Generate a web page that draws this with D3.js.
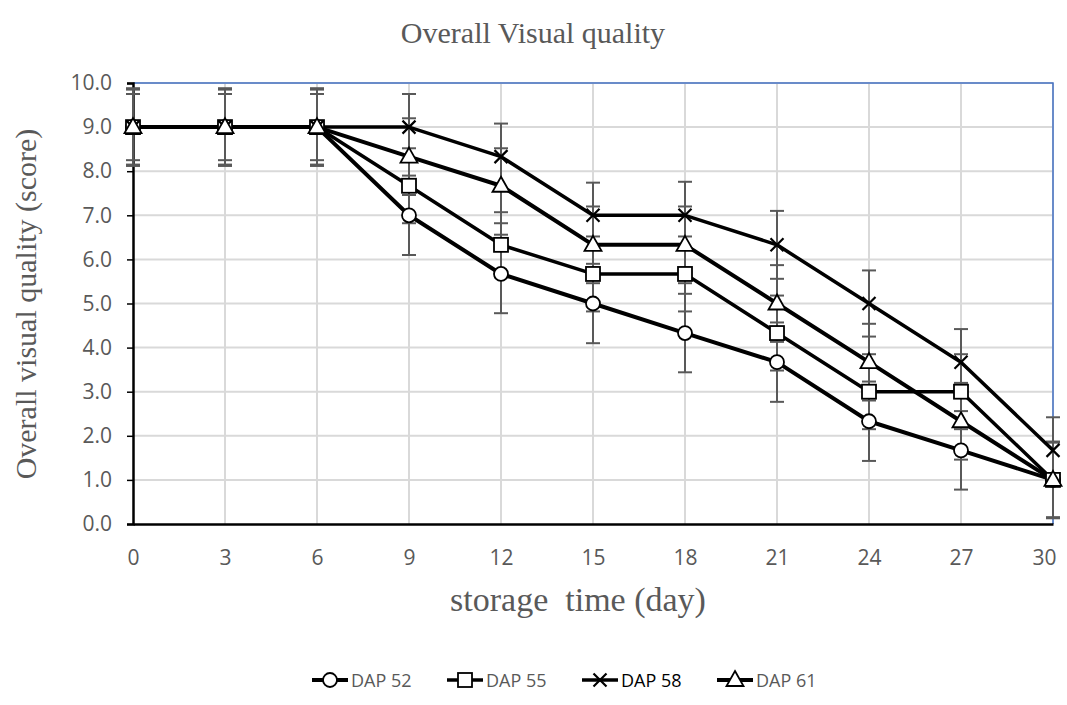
<!DOCTYPE html>
<html><head><meta charset="utf-8">
<script src="https://cdn.jsdelivr.net/npm/d3@7"></script>
<style>body{margin:0;background:#fff}</style>
</head><body>
<svg id="c" width="1067" height="705"></svg>
<script>
const days = [0,3,6,9,12,15,18,21,24,27,30];
const seriesNames = ["DAP 52","DAP 55","DAP 58","DAP 61"];
const dap52 = [9,9,9,7,5.67,5,4.33,3.67,2.33,1.67,1];
const dap55 = [9,9,9,7.67,6.33,5.67,5.67,4.33,3,3,1];
const dap58 = [9,9,9,9,8.33,7,7,6.33,5,3.67,1.67];
const dap61 = [9,9,9,8.33,7.67,6.33,6.33,5,3.67,2.33,1];
const err52 = [0.88,0.88,0.88,0.9,0.89,0.9,0.89,0.9,0.9,0.89,0.85];
const err55 = [0.85,0.85,0.85,0.85,0.74,0.85,0.85,0.85,0.85,0.85,0.85];
const err58 = [0.75,0.75,0.75,0.75,0.75,0.74,0.76,0.77,0.75,0.75,0.75];
const err61 = [0.87,0.87,0.87,0.87,0.85,0.87,0.87,0.87,0.87,0.87,0.87];
const yTicks = [0,1,2,3,4,5,6,7,8,9,10];

const series = [
  {name:seriesNames[0], vals:dap52, err:err52, sym:"circle", lw:4},
  {name:seriesNames[1], vals:dap55, err:err55, sym:"square", lw:3.5},
  {name:seriesNames[2], vals:dap58, err:err58, sym:"cross", lw:3.5},
  {name:seriesNames[3], vals:dap61, err:err61, sym:"triangle", lw:4}
];

const svg = d3.select("#c");
const L=133, R=1053, T=83, B=524;
const x = d3.scaleLinear().domain([0,30]).range([L,R]);
const y = d3.scaleLinear().domain([0,10]).range([B,T]);
const gray="#595959";
const sans="'Open Sans', sans-serif", serif="'Liberation Serif', serif";

// gridlines
svg.append("g").selectAll("line").data(yTicks.slice(1)).join("line")
  .attr("x1",L).attr("x2",R).attr("y1",d=>y(d)).attr("y2",d=>y(d))
  .attr("stroke","#d9d9d9").attr("stroke-width",2);
svg.append("g").selectAll("line").data(days.slice(1)).join("line")
  .attr("x1",d=>x(d)).attr("x2",d=>x(d)).attr("y1",T).attr("y2",B)
  .attr("stroke","#d9d9d9").attr("stroke-width",2);
svg.append("path").attr("d",`M${L},${T}H${R}V${B}`).attr("fill","none")
  .attr("stroke","#4472c4").attr("stroke-width",1.5);

// axes
const yAxis = d3.axisLeft(y).tickValues(yTicks).tickFormat(d3.format(".1f")).tickSize(6).tickPadding(15);
const gy = svg.append("g").attr("transform",`translate(${L},0)`).call(yAxis);
gy.select(".domain").attr("stroke","#000").attr("stroke-width",2.5);
gy.selectAll(".tick line").attr("stroke","#000").attr("stroke-width",1.5);
gy.selectAll("text").attr("fill",gray).style("font-family",sans).style("font-size","21px");

const xAxis = d3.axisBottom(x).tickValues(days).tickSize(0).tickPadding(26);
const gx = svg.append("g").attr("transform",`translate(0,${B})`).call(xAxis);
gx.select(".domain").attr("stroke","#000").attr("stroke-width",2.5);
gx.selectAll("text").attr("fill",gray).style("font-family",sans).style("font-size","21px");
gx.selectAll(".tick").filter(d=>d===30).select("text").attr("dx",-9);

// error bars
series.forEach(s=>{
  const g = svg.append("g");
  days.forEach((d,i)=>{
    const v=s.vals[i], e=s.err[i];
    g.append("line").attr("x1",x(d)).attr("x2",x(d)).attr("y1",y(v+e)).attr("y2",y(v-e))
      .attr("stroke",gray).attr("stroke-width",2);
    [v+e,v-e].forEach(w=>{
      g.append("line").attr("x1",x(d)-7).attr("x2",x(d)+7).attr("y1",y(w)).attr("y2",y(w))
        .attr("stroke",gray).attr("stroke-width",2);
    });
  });
});

// lines
const line = d3.line().x((d,i)=>x(days[i])).y(d=>y(d));
series.forEach(s=>{
  svg.append("path").datum(s.vals).attr("d",line).attr("fill","none")
    .attr("stroke","#000").attr("stroke-width",s.lw).attr("stroke-linejoin","round");
});

function drawMarker(g, sym, cx, cy){
  if(sym==="circle"){
    g.append("circle").attr("cx",cx).attr("cy",cy).attr("r",7).attr("fill","#fff").attr("stroke","#000").attr("stroke-width",1.8);
  } else if(sym==="square"){
    g.append("rect").attr("x",cx-7).attr("y",cy-7).attr("width",14).attr("height",14).attr("fill","#fff").attr("stroke","#000").attr("stroke-width",1.8);
  } else if(sym==="triangle"){
    g.append("path").attr("d",`M${cx},${cy-9}L${cx+8.5},${cy+6}L${cx-8.5},${cy+6}Z`).attr("fill","#fff").attr("stroke","#000").attr("stroke-width",1.8);
  } else {
    g.append("path").attr("d",`M${cx-6.5},${cy-6.5}L${cx+6.5},${cy+6.5}M${cx+6.5},${cy-6.5}L${cx-6.5},${cy+6.5}`)
      .attr("stroke","#000").attr("stroke-width",2.2).attr("fill","none");
  }
}
series.forEach(s=>{
  const g=svg.append("g");
  s.vals.forEach((v,i)=>drawMarker(g,s.sym,x(days[i]),y(v)));
});

// titles
svg.append("text").attr("x",533).attr("y",43).attr("text-anchor","middle")
  .style("font-family",serif).style("font-size","30px").attr("fill",gray).text("Overall Visual quality");
svg.append("text").attr("transform","translate(36,304) rotate(-90)").attr("text-anchor","middle")
  .style("font-family",serif).style("font-size","30px").attr("fill",gray).text("Overall visual quality (score)");
svg.append("text").attr("x",578).attr("y",611).attr("text-anchor","middle")
  .style("font-family",serif).style("font-size","34px").attr("fill",gray).style("white-space","pre").text("storage  time (day)");

// legend
const legX=[312,447,582,717];
const legY=680;
series.forEach((s,i)=>{
  const g=svg.append("g");
  g.append("line").attr("x1",legX[i]).attr("x2",legX[i]+36).attr("y1",legY).attr("y2",legY).attr("stroke","#000").attr("stroke-width",s.lw);
  drawMarker(g,s.sym,legX[i]+18,legY);
  g.append("text").attr("x",legX[i]+39).attr("y",legY+7)
    .style("font-family",sans).style("font-size","18px")
    .attr("fill",i===2?"#000":gray).text(s.name);
});
</script>
</body></html>
